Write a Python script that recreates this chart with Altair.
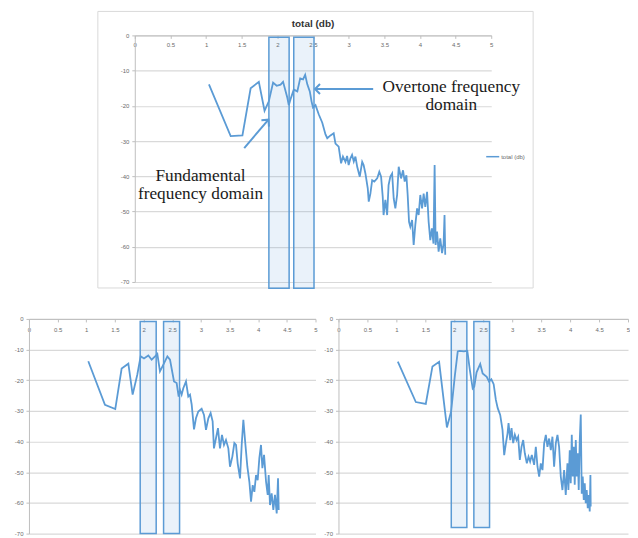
import altair as alt
import pandas as pd

# ---------------- data ----------------
top_freq = [1.04, 1.345, 1.51, 1.625, 1.74, 1.82, 1.88, 1.94, 1.99, 2.045, 2.08, 2.14, 2.16, 2.19,
            2.23, 2.28, 2.32, 2.36, 2.39, 2.42, 2.455, 2.48, 2.50, 2.535, 2.58, 2.63, 2.675, 2.70,
            2.745, 2.79, 2.815, 2.86, 2.894, 2.92, 2.955, 2.978, 3.0, 3.025, 3.048, 3.072, 3.095,
            3.12, 3.156, 3.19, 3.21, 3.235, 3.268, 3.282, 3.305, 3.33, 3.36, 3.4, 3.43, 3.455,
            3.478, 3.49, 3.515, 3.54, 3.56, 3.585, 3.61, 3.632, 3.655, 3.68, 3.702, 3.735, 3.763,
            3.786, 3.81, 3.828, 3.847, 3.865, 3.89, 3.912, 3.935, 3.96, 3.982, 4.005, 4.03, 4.052,
            4.075, 4.1, 4.122, 4.145, 4.168, 4.19, 4.206, 4.22, 4.24, 4.262, 4.285, 4.31, 4.332,
            4.345, 4.355]
top_db = [-13.9, -28.6, -28.4, -15.0, -13.2, -21.4, -18.7, -13.4, -14.3, -14.0, -13.2, -17.7, -19.8,
          -17.8, -15.4, -15.9, -12.2, -12.5, -11.2, -13.9, -15.9, -18.8, -20.5, -19.8, -22.4, -24.8,
          -28.1, -29.2, -28.4, -27.8, -30.7, -31.6, -36.3, -34.4, -35.9, -34.2, -36.8, -34.9, -33.9,
          -35.8, -34.4, -37.3, -40.1, -35.9, -36.8, -39.2, -43.4, -47.2, -44.9, -41.1, -41.5, -40.6,
          -38.7, -40.1, -45.8, -51.0, -46.7, -51.0, -42.5, -40.1, -39.2, -46.3, -49.1, -45.3, -37.3,
          -40.6, -38.3, -41.5, -39.7, -45.3, -52.9, -54.3, -52.4, -59.5, -53.8, -49.1, -51.0, -45.3,
          -49.1, -44.9, -48.7, -44.4, -52.9, -58.1, -54.8, -59.1, -36.8, -59.5, -55.7, -61.4, -57.6,
          -61.8, -59.1, -51.0, -62.3]

bl_freq = [1.035, 1.326, 1.506, 1.617, 1.734, 1.809, 1.89, 1.949, 2.007, 2.083, 2.141, 2.2, 2.24,
           2.286, 2.345, 2.415, 2.461, 2.531, 2.577, 2.612, 2.635, 2.664, 2.693, 2.74, 2.78, 2.81,
           2.839, 2.88, 2.914, 2.955, 3.013, 3.054, 3.089, 3.13, 3.17, 3.205, 3.228, 3.263, 3.298,
           3.333, 3.368, 3.403, 3.438, 3.479, 3.508, 3.549, 3.584, 3.613, 3.642, 3.683, 3.712,
           3.741, 3.77, 3.811, 3.846, 3.875, 3.904, 3.933, 3.962, 3.991, 4.02, 4.049, 4.073, 4.102,
           4.137, 4.166, 4.183, 4.206, 4.235, 4.264, 4.293, 4.323, 4.346, 4.358]
bl_db = [-13.8, -28.0, -29.4, -16.2, -14.6, -24.7, -18.2, -12.2, -12.9, -11.9, -13.3, -12.2, -11.4,
         -17.1, -14.9, -12.2, -13.3, -20.4, -20.9, -25.3, -23.1, -24.7, -22.6, -20.4, -25.3, -24.7,
         -27.9, -36.0, -32.4, -30.2, -29.3, -31.3, -36.2, -32.4, -30.7, -33.4, -42.2, -38.9, -35.6,
         -42.2, -37.8, -41.1, -39.5, -42.2, -48.2, -44.9, -40.5, -41.1, -47.1, -52.0, -41.1, -32.9,
         -39.5, -48.2, -53.1, -59.6, -54.2, -56.4, -50.9, -52.6, -45.4, -41.1, -48.7, -44.3, -53.1,
         -57.4, -50.9, -60.7, -56.9, -62.3, -57.4, -63.4, -52.0, -62.3]

br_freq = [1.025, 1.336, 1.508, 1.623, 1.738, 1.873, 1.945, 2.01, 2.06, 2.09, 2.165, 2.225, 2.268,
           2.318, 2.345, 2.385, 2.448, 2.49, 2.56, 2.6, 2.64, 2.68, 2.718, 2.75, 2.793, 2.833,
           2.862, 2.891, 2.92, 2.937, 2.966, 2.989, 3.017, 3.046, 3.075, 3.103, 3.132, 3.161, 3.19,
           3.218, 3.253, 3.282, 3.31, 3.339, 3.379, 3.408, 3.437, 3.466, 3.494, 3.523, 3.552, 3.581,
           3.609, 3.638, 3.667, 3.695, 3.724, 3.753, 3.782, 3.81, 3.839, 3.868, 3.897, 3.925, 3.954,
           3.971, 3.994, 4.011, 4.029, 4.046, 4.063, 4.08, 4.098, 4.115, 4.132, 4.149, 4.167, 4.184,
           4.201, 4.218, 4.236, 4.253, 4.27, 4.287, 4.305, 4.322, 4.339, 4.351, 4.356]
br_db = [-13.9, -27.1, -27.7, -15.5, -14.0, -35.4, -30.2, -18.5, -10.6, -10.4, -10.6, -10.4, -16.5,
         -22.7, -22.1, -17.4, -14.7, -17.8, -18.9, -20.4, -19.7, -21.3, -26.4, -29.1, -31.3, -36.2,
         -44.4, -40.6, -37.3, -34.0, -39.5, -35.6, -40.5, -37.8, -39.5, -38.4, -46.0, -41.7, -39.5,
         -43.8, -47.1, -44.9, -46.5, -44.4, -47.6, -41.7, -48.2, -51.4, -47.1, -49.3, -40.6, -37.8,
         -41.7, -39.0, -42.8, -38.4, -48.2, -40.6, -37.8, -41.7, -51.4, -55.8, -49.3, -57.4, -47.1,
         -55.8, -42.8, -53.6, -37.8, -51.4, -41.7, -54.1, -39.5, -51.4, -43.8, -55.8, -39.5, -31.2,
         -57.0, -51.4, -59.0, -53.6, -60.1, -55.8, -61.7, -57.4, -62.8, -50.9, -61.2]

x_ticks = [0, 0.5, 1, 1.5, 2, 2.5, 3, 3.5, 4, 4.5, 5]
y_ticks = [0, -10, -20, -30, -40, -50, -60, -70]
series_name = ["total (db)"]

# highlighted frequency bands (fundamental, overtone)
top_band_start = [1.881, 2.230]
top_band_end = [2.165, 2.514]
top_band_top = [-0.5, -0.5]
top_band_bottom = [-71.8, -71.8]
bl_band_start = [1.941, 2.349]
bl_band_end = [2.220, 2.628]
bl_band_top = [-0.8, -0.8]
bl_band_bottom = [-70.0, -70.0]
br_band_start = [1.948, 2.338]
br_band_end = [2.217, 2.609]
br_band_top = [-0.8, -0.8]
br_band_bottom = [-68.0, -68.0]

# annotations on the top chart
note_text = ["Overtone frequency\ndomain", "Fundamental\nfrequency domain"]
note_freq = [4.44, 0.922]
note_db = [-14.7, -39.9]
arrow_from_freq = [3.344, 1.535]
arrow_from_db = [-15.24, -31.98]
arrow_to_freq = [2.528, 1.875]
arrow_to_db = [-15.24, -23.92]
arrow_dir = [270, 41]

# ---------------- styling ----------------
BLUE = "#5b9bd5"
GRID = "#d9d9d9"
AXISC = "#bfbfbf"
LABEL = "#6b6b6b"
FONT = "Liberation Sans"

XS = alt.Scale(domain=[0, 5], nice=False, zero=False)
YS = alt.Scale(domain=[-70, 0], nice=False, zero=False)


def axes(h, xpad):
    common = dict(title=None, labelFontSize=6, labelColor=LABEL, labelFont=FONT, tickSize=3,
                  tickColor=AXISC, domainColor=AXISC, labelFlush=False, labelOverlap=False,
                  labelExpr="'' + datum.value")
    xa = alt.Axis(orient="bottom", offset=-h, values=x_ticks, grid=False, labelPadding=xpad,
                  **common)
    ya = alt.Axis(values=y_ticks, grid=True, gridColor=GRID, gridWidth=1.2, labelPadding=3,
                  **common)
    return xa, ya


def panel_layers(freq, db, b0, b1, bt, bb, h, xpad, legend=None):
    xa, ya = axes(h, xpad)
    X = lambda f: alt.X(f, scale=XS, axis=xa)
    Y = lambda f: alt.Y(f, scale=YS, axis=ya)
    df = pd.DataFrame({"freq": freq, "db": db, "series": series_name * len(freq)})
    enc = dict(x=X("freq:Q"), y=Y("db:Q"))
    if legend is not None:
        enc["color"] = alt.Color("series:N", scale=alt.Scale(domain=series_name, range=[BLUE]),
                                 legend=legend)
    line = alt.Chart(df).mark_line(color=BLUE, strokeWidth=1.8).encode(**enc)
    bdf = pd.DataFrame({"freq": b0, "freq_end": b1, "db": bt, "db_end": bb})
    bands = alt.Chart(bdf).mark_rect(fill=BLUE, fillOpacity=0.13, stroke=BLUE,
                                     strokeWidth=1.5).encode(
        x=X("freq:Q"), x2="freq_end:Q", y=Y("db:Q"), y2="db_end:Q")
    return X, Y, line, bands


# ---------------- top chart ----------------
TW, TH = 357, 247
frame = alt.Chart(pd.DataFrame({"k": [0]})).mark_rect(
    fillOpacity=0, stroke="#d9d9d9", strokeWidth=1).encode(
    x=alt.value(-37), x2=alt.value(399), y=alt.value(-24), y2=alt.value(253))

legend = alt.Legend(orient="none", legendX=457, legendY=114, title=None, symbolType="stroke",
                    symbolSize=170, symbolStrokeWidth=1.5, labelFontSize=6, labelColor=LABEL,
                    labelFont=FONT, padding=0, labelOffset=1)
TX, TY, t_line, t_bands = panel_layers(top_freq, top_db, top_band_start, top_band_end,
                                       top_band_top, top_band_bottom, TH, 3, legend)

adf = pd.DataFrame({"freq": arrow_from_freq, "db": arrow_from_db,
                    "freq_end": arrow_to_freq, "db_end": arrow_to_db})
arrows = alt.Chart(adf).mark_rule(color=BLUE, strokeWidth=2).encode(
    x=TX("freq:Q"), x2="freq_end:Q", y=TY("db:Q"), y2="db_end:Q")
hdf = pd.DataFrame({"freq": arrow_to_freq, "db": arrow_to_db, "ang": arrow_dir})
heads = alt.Chart(hdf).mark_point(shape="M-1,1L0,0L1,1", size=100, strokeWidth=2, color=BLUE,
                                  opacity=1, filled=False).encode(
    x=TX("freq:Q"), y=TY("db:Q"), angle=alt.Angle("ang:Q", scale=None))
ndf = pd.DataFrame({"text": note_text, "freq": note_freq, "db": note_db})
notes = alt.Chart(ndf).mark_text(font="Liberation Serif", fontSize=17.3, color="#1a1a1a",
                                 align="center", baseline="middle", lineBreak="\n",
                                 lineHeight=18).encode(
    x=TX("freq:Q"), y=TY("db:Q"), text="text:N")

top = alt.layer(frame, t_line, t_bands, arrows, heads, notes).properties(
    width=TW, height=TH,
    title=alt.Title("total (db)", fontSize=10, fontWeight="bold", color="#333333", font=FONT,
                    offset=-18, anchor="middle"))

# ---------------- bottom charts ----------------
BH = 215
_, _, l_line, l_bands = panel_layers(bl_freq, bl_db, bl_band_start, bl_band_end, bl_band_top,
                                     bl_band_bottom, BH, 4.5)
left = alt.layer(l_line, l_bands).properties(width=287, height=BH)

_, _, r_line, r_bands = panel_layers(br_freq, br_db, br_band_start, br_band_end, br_band_top,
                                     br_band_bottom, BH, 4.5)
right = alt.layer(r_line, r_bands).properties(width=290, height=BH)

spacer = alt.Chart(pd.DataFrame({"k": [0]})).mark_point(opacity=0).encode(
    x=alt.value(30), y=alt.value(40)).properties(width=68, height=100)

top_row = alt.hconcat(spacer, top, spacing=0)
bottom_row = alt.hconcat(left, right, spacing=6)

chart = alt.vconcat(top_row, bottom_row, spacing=26).resolve_scale(
    color="independent").configure_view(strokeWidth=0).properties(
    padding={"left": 6, "top": 2, "right": 0, "bottom": 0}, background="white")

chart.save("out.html", embed_options={"renderer": "svg", "actions": False})
